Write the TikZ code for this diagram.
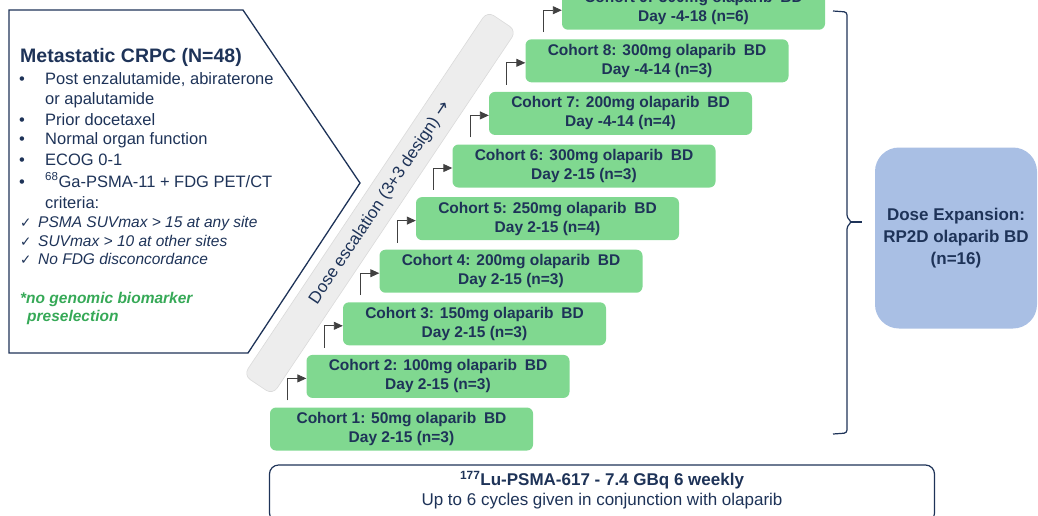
\documentclass[tikz,border=0pt]{standalone}
\usepackage{fontspec}
\setmainfont{Liberation Sans}
\newfontfamily\symfont{DejaVu Sans}
\usetikzlibrary{arrows.meta}

\definecolor{navy}{HTML}{1E3358}
\definecolor{cohortgreen}{HTML}{80D890}
\definecolor{expblue}{HTML}{A9BFE4}
\definecolor{notegreen}{HTML}{36A957}
\definecolor{barfill}{HTML}{EDEDED}
\definecolor{barline}{HTML}{DADADA}
\newcommand\fsz[2]{\fontsize{#1}{#2}\selectfont}

\begin{document}
\begin{tikzpicture}[x=1pt,y=-1pt,
  lefttxt/.style={anchor=base west, inner sep=0pt, text=navy, font=\fsz{16.5}{20}},
  checktxt/.style={anchor=base west, inner sep=0pt, text=navy, font=\fsz{15.5}{18}\itshape},
  notetxt/.style={anchor=base west, inner sep=0pt, text=notegreen, font=\fsz{15.5}{18}\bfseries\itshape},
  cohort/.style={fill=cohortgreen, rounded corners=6pt, minimum width=263pt, minimum height=43pt,
    inner sep=0pt, align=center, text=navy, font=\fsz{15.5}{19}\bfseries},
  elbow/.style={draw=black!75, line width=0.9pt, -{Triangle[length=9pt,width=8pt]}},
  brace/.style={draw=navy, line width=1.2pt, rounded corners=3pt},
  bar/.style={fill=barfill, draw=barline, line width=0.6pt, rounded corners=8pt,
    inner sep=0pt, text=navy, font=\fsz{17}{20}},
]
\useasboundingbox (0,0) rectangle (1038,515);

% eligibility panel
\draw[navy, line width=1.3pt] (9,10) -- (243,10) -- (360,183) -- (248,353) -- (9,353) -- cycle;
\node[anchor=base west, inner sep=0pt, text=navy, font=\fsz{19.5}{22}\bfseries] (title) at (20,62) {Metastatic CRPC (N=48)};
\foreach \y/\nm in {84/a,125/b,144/c,165/d,187/e}
  \node[lefttxt] (dot\nm) at (19,\y) {•};
\node[lefttxt] (l1) at (45,84) {Post enzalutamide, abiraterone};
\node[lefttxt] (l2) at (45,104) {or apalutamide};
\node[lefttxt] (l3) at (45,125) {Prior docetaxel};
\node[lefttxt] (l4) at (45,144) {Normal organ function};
\node[lefttxt] (l5) at (45,165) {ECOG 0-1};
\node[lefttxt] (l6) at (45,187) {\textsuperscript{68}Ga-PSMA-11 + FDG PET/CT};
\node[lefttxt] (l7) at (45,208) {criteria:};
\foreach \y/\nm in {227/a,246/b,264/c}
  \node[checktxt, font=\fsz{13.5}{15}\symfont] (chk\nm) at (20,\y) {✓};
\node[checktxt] (k1) at (38,227) {PSMA SUVmax > 15 at any site};
\node[checktxt] (k2) at (38,246) {SUVmax > 10 at other sites};
\node[checktxt] (k3) at (38,264) {No FDG disconcordance};
\node[notetxt] (n1) at (20,303) {*no genomic biomarker};
\node[notetxt] (n2) at (27,321) {preselection};

% dose escalation bar
\node[bar, rotate=56.2, minimum width=438pt, minimum height=35pt] (esc) at (380,203)
  {Dose escalation (3+3 design) {\symfont →}};

% cohorts
\foreach \i/\dose/\days in {1/50mg/2-15 (n=3), 2/100mg/2-15 (n=3), 3/150mg/2-15 (n=3),
    4/200mg/2-15 (n=3), 5/250mg/2-15 (n=4), 6/300mg/2-15 (n=3),
    7/200mg/-4-14 (n=4), 8/300mg/-4-14 (n=3), 9/300mg/-4-18 (n=6)}
  \node[cohort] (c\i) at ({401.5+36.5*(\i-1)},{429-52.6*(\i-1)})
    {Cohort \i: \dose\ olaparib\hspace{0.5em}BD\\Day \days};
\foreach \i [evaluate=\i as \j using int(\i-1)] in {2,...,9}
  \draw[elbow] ([xshift=18pt,yshift=7pt]c\j.north west) |- ([yshift=-2pt]c\i.west);

% bracket to expansion
\coordinate (bt) at (833,11);
\coordinate (bb) at (833,434);
\coordinate (bm) at (862,222);
\draw[brace] (bt) -- (847,12) -- (847,218) -- (852,222) -- (847,226) -- (847,433) -- (bb);
\draw[navy, line width=1.2pt] (851,222) -- (bm);

\node[fill=expblue, rounded corners=24pt, minimum width=162pt, minimum height=181pt,
  inner sep=0pt, align=center, text=navy, font=\fsz{17}{22}\bfseries] (exp) at (956,238)
  {Dose Expansion:\\RP2D olaparib BD\\(n=16)};

% radioligand schedule
\node[draw=navy, line width=1.2pt, rounded corners=9pt, fill=white,
  minimum width=665pt, minimum height=57pt] (lu) at (602,493.5) {};
\node[align=center, text=navy, inner sep=0pt, font=\fsz{17}{20}] (lutxt) at ([yshift=3.5pt]lu.center)
  {{\bfseries \textsuperscript{177}Lu-PSMA-617 - 7.4 GBq 6 weekly}\\Up to 6 cycles given in conjunction with olaparib};
\end{tikzpicture}
\end{document}
